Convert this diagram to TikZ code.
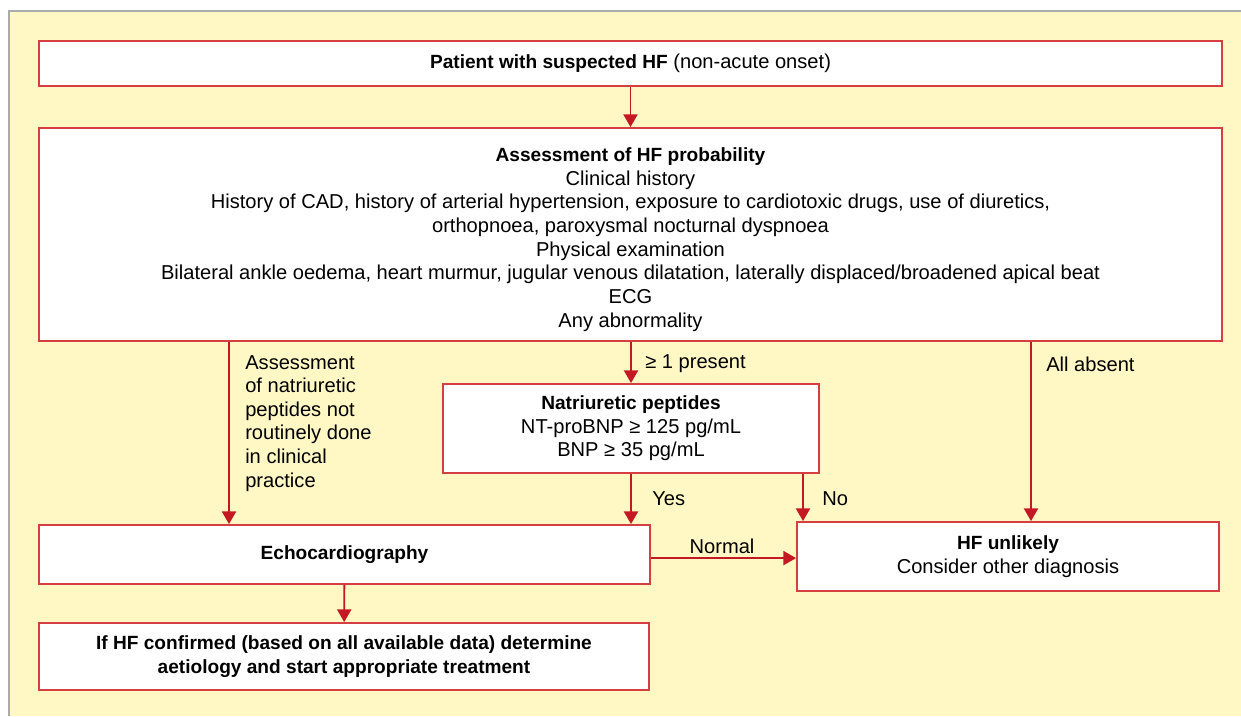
\documentclass[tikz,border=0pt]{standalone}
\usepackage{fontspec}
\setmainfont{Liberation Sans}[BoldFeatures={Scale=0.95}]
\usepackage{tikz}
\usetikzlibrary{arrows.meta}
\definecolor{boxred}{RGB}{214,62,66}
\definecolor{arrred}{RGB}{196,24,34}
\definecolor{paleyellow}{RGB}{255,248,197}
\definecolor{framegrey}{RGB}{170,170,170}
\tikzstyle{hfbox} = [draw=boxred, fill=white, line width=1.3pt,
    rectangle, align=center, inner sep=0pt]
\tikzstyle{hfarrow} =[draw=arrred, line width=1.3pt,
    -{Triangle[width=10pt,length=9pt]}]
\tikzstyle{hflabel} =[anchor=west, inner sep=0pt, align=left]

\begin{document}
\begin{tikzpicture}[x=0.025cm, y=-0.025cm,
    font=\fontsize{14.3}{16.8}\selectfont]
\useasboundingbox (0,0) rectangle (1241,716);
\fill[paleyellow] (9,11) rectangle (1241,716);
\draw[framegrey, line width=1.2pt] (9,716) -- (9,11) -- (1241,11);

\node [hfbox, minimum width=29.575cm, minimum height=1.125cm] (patient) at (630.5,63.5)
    {\textbf{Patient with suspected HF} (non-acute onset)};
\node [hfbox, minimum width=29.575cm, minimum height=5.325cm] (assess) at (630.5,234.5)
    {\rule{0pt}{17pt}\textbf{Assessment of HF probability}\\
    Clinical history\\
    History of CAD, history of arterial hypertension, exposure to cardiotoxic drugs, use of diuretics,\\
    orthopnoea, paroxysmal nocturnal dyspnoea\\
    Physical examination\\
    Bilateral ankle oedema, heart murmur, jugular venous dilatation, laterally displaced/broadened apical beat\\
    ECG\\
    Any abnormality};
\node [hfbox, minimum width=9.4cm, minimum height=2.225cm] (natri) at (631,428.5)
    {\textbf{Natriuretic peptides}\\
    NT-proBNP ≥ 125 pg/mL\\
    BNP ≥ 35 pg/mL};
\node [hfbox, minimum width=15.275cm, minimum height=1.475cm] (echo) at (344.5,554.5)
    {\textbf{Echocardiography}};
\node [hfbox, minimum width=10.55cm, minimum height=1.725cm] (unlikely) at (1008,556.5)
    {\textbf{HF unlikely}\\ Consider other diagnosis};
\node [hfbox, minimum width=15.25cm, minimum height=1.675cm] (confirm) at (344,656.5)
    {\textbf{If HF confirmed (based on all available data) determine}\\
    \textbf{aetiology and start appropriate treatment}};

% arrow columns
\coordinate (xleft) at (229,0);
\coordinate (xno) at (803,0);
\coordinate (xright) at (1031,0);

\draw[hfarrow] (patient) -- (assess);
\draw[hfarrow] (assess.south -| xleft) -- (echo.north -| xleft);
\draw[hfarrow] (assess.south -| natri.north) -- (natri.north);
\draw[hfarrow] (assess.south -| xright) -- (unlikely.north -| xright);
\draw[hfarrow] (natri.south) -- (echo.north -| natri.south);
\draw[hfarrow] (natri.south -| xno) -- (unlikely.north -| xno);
\draw[hfarrow] ([yshift=-0.09cm]echo.east) -- ([yshift=-0.09cm]echo.east -| unlikely.west);
\draw[hfarrow] (echo) -- (confirm);

\node [hflabel, anchor=north west] (notdone) at (245,355)
    {Assessment\\ of natriuretic\\ peptides not\\ routinely done\\ in clinical\\ practice};
\node [hflabel] (present) at (645,364) {≥ 1 present};
\node [hflabel] (absent) at (1046,364) {All absent};
\node [hflabel] (yes) at (652,499) {Yes};
\node [hflabel] (no) at (822,499) {No};
\node [inner sep=0pt] (normal) at (722,546) {Normal};
\end{tikzpicture}
\end{document}
